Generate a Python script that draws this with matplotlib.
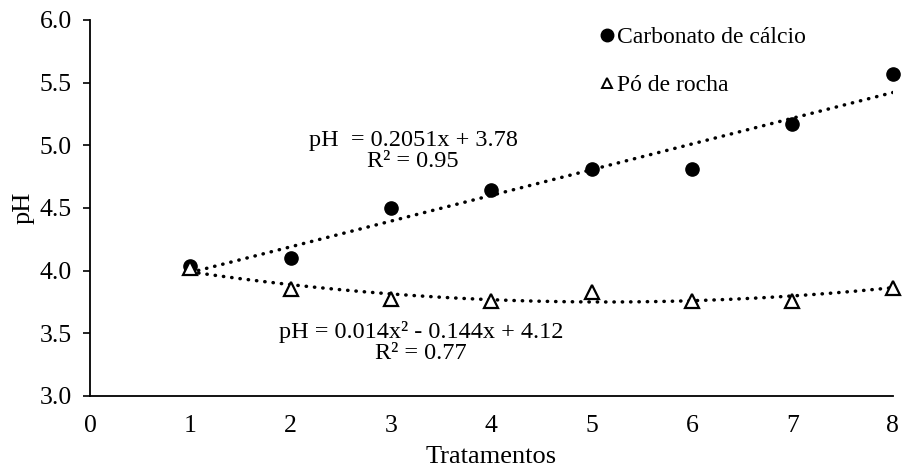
import numpy as np
import matplotlib.pyplot as plt

plt.rcParams['font.family'] = ['Liberation Serif', 'DejaVu Serif']

tratamentos = [1, 2, 3, 4, 5, 6, 7, 8]
carbonato = [4.04, 4.10, 4.50, 4.64, 4.81, 4.81, 5.17, 5.57]
po_rocha = [4.02, 3.85, 3.77, 3.76, 3.83, 3.76, 3.76, 3.86]

# trend coefficients shown on the chart
lin_coef = [0.2051, 3.78]
quad_coef = [0.014, -0.144, 4.12]

fig = plt.figure(figsize=(9.04, 4.74), dpi=100)
ax = fig.add_axes([0.0996, 0.1646, 0.888, 0.7934])

xs = np.linspace(1, 8, 200)
ax.plot(xs, np.polyval(lin_coef, xs), color='k', ls=(0, (0.1, 2.3)), lw=2.5,
        dash_capstyle='round', zorder=2)
ax.plot(xs, np.polyval(quad_coef, xs), color='k', ls=(0, (0.1, 2.3)), lw=2.5,
        dash_capstyle='round', zorder=2)

ax.plot(tratamentos, carbonato, 'o', color='k', ms=9.5, ls='none',
        label='Carbonato de cálcio', zorder=3, clip_on=False)
ax.plot(tratamentos, po_rocha, '^', mfc='white', mec='k', mew=1.6, ms=9.5,
        ls='none', label='Pó de rocha', zorder=3, clip_on=False)

ax.set_xlim(0, 8)
ax.set_ylim(3.0, 6.0)
ax.set_xticks(range(0, 9))
ax.set_yticks(np.arange(3.0, 6.01, 0.5))
ax.set_yticklabels([f'{v:.1f}' for v in np.arange(3.0, 6.01, 0.5)])
ax.tick_params(axis='y', length=5, width=1.2, labelsize=18.5, pad=8)
ax.tick_params(axis='x', length=0, labelsize=18.5, pad=14)
for s in ['top', 'right']:
    ax.spines[s].set_visible(False)
for s in ['left', 'bottom']:
    ax.spines[s].set_linewidth(1.3)

ax.set_xlabel('Tratamentos', fontsize=19, labelpad=6)
ax.set_ylabel('pH', fontsize=19, labelpad=4)

ax.text(3.22, 4.955, 'pH  = 0.2051x + 3.78\nR² = 0.95', ha='center', va='center',
        fontsize=17.5, linespacing=1.0)
ax.text(3.30, 3.43, 'pH = 0.014x² - 0.144x + 4.12\nR² = 0.77', ha='center',
        va='center', fontsize=17.5, linespacing=1.0)

h1 = ax.plot([], [], 'o', color='k', ms=9, ls='none')[0]
h2 = ax.plot([], [], '^', mfc='white', mec='k', mew=1.4, ms=7.5, ls='none')[0]
ax.legend([h1, h2], ['Carbonato de cálcio', 'Pó de rocha'], loc='upper left',
          bbox_to_anchor=(0.615, 1.027), frameon=False, fontsize=17,
          handlelength=0.6, handletextpad=0.1, labelspacing=1.12,
          borderaxespad=0.3)

fig.savefig('out.png', dpi=100)
